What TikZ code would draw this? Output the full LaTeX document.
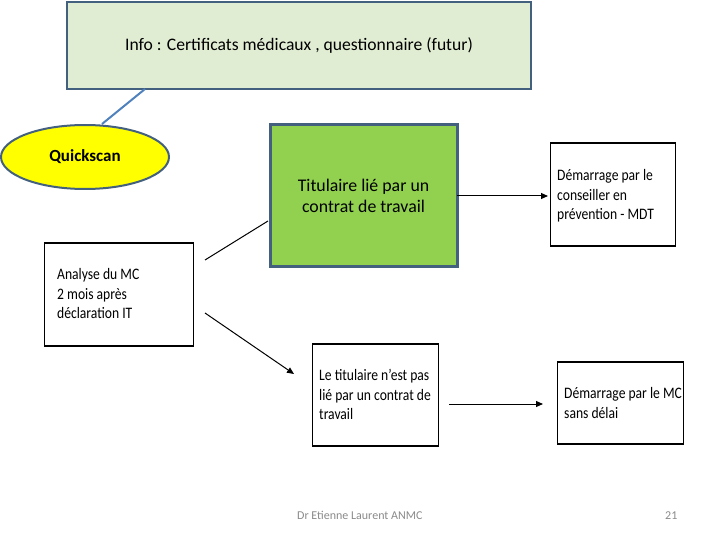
\documentclass[tikz,border=0pt]{standalone}
\usepackage{fontspec}
\setmainfont{Carlito}
\newfontfamily\narrowfont[FakeStretch=0.85]{Carlito}
\usetikzlibrary{arrows.meta,shapes.geometric}
\definecolor{infofill}{HTML}{E0EDD3}
\definecolor{boxedge}{HTML}{44607F}
\definecolor{linkblue}{HTML}{4F81BD}
\definecolor{titgreen}{HTML}{92D050}
\definecolor{qyellow}{HTML}{FFFF00}
\definecolor{footgray}{HTML}{8A8A8A}
\tikzset{
  whitebox/.style={draw=black, line width=1pt, fill=white, anchor=north west, inner sep=0pt},
  boxtext/.style={anchor=north west, align=left, font=\narrowfont\fontsize{16}{19.7}\selectfont, inner sep=0pt},
  arr/.style={draw=black, line width=1pt, -{Triangle[length=7pt,width=6pt]}},
  plain/.style={draw=black, line width=1pt},
  foottext/.style={font=\fontsize{12}{14}\selectfont, text=footgray, anchor=base west, inner sep=0pt},
}
\begin{document}
\begin{tikzpicture}[x=1pt,y=-1pt]
\useasboundingbox (0,0) rectangle (720,540);
% info box
\node[draw=boxedge, line width=2pt, fill=infofill, minimum width=464pt, minimum height=87pt, anchor=north west,
      font=\fontsize{17.6}{20}\selectfont] (info) at (66,1) {Info : Certificats médicaux , questionnaire (futur)};
% quickscan ellipse
\coordinate (infob) at (145,89);
\coordinate (qstop) at (102,124);
\draw[linkblue, line width=2pt] (infob) -- (qstop);
\node[draw=boxedge, line width=2pt, fill=qyellow, ellipse, minimum width=168pt, minimum height=64pt,
      font=\bfseries\fontsize{17}{19}\selectfont, inner sep=0pt] (qs) at (85,157) {Quickscan};
% titulaire
\node[draw=boxedge, line width=3pt, fill=titgreen, minimum width=187pt, minimum height=141pt, anchor=north west,
      align=center, font=\fontsize{17.8}{21}\selectfont] (tit) at (268.5,123.5) {Titulaire lié par un\\contrat de travail};
% MDT box
\node[whitebox, minimum width=125pt, minimum height=102pt] (mdt) at (550,143) {};
\draw[line width=1.8pt] (mdt.north west) -- (mdt.north east) (mdt.south west) -- (mdt.south east);
\node[boxtext] (mdtt) at (557,169) {Démarrage par le\\conseiller en\\prévention - MDT};
% analyse box
\node[whitebox, minimum width=149pt, minimum height=102pt] (ana) at (44,243) {};
\draw[line width=1.8pt] (ana.north west) -- (ana.north east) (ana.south west) -- (ana.south east);
\node[boxtext] (anat) at (57,268) {Analyse du MC\\2 mois après\\déclaration IT};
% non titulaire box
\node[whitebox, minimum width=126pt, minimum height=101pt] (non) at (312,344) {};
\draw[line width=1.8pt] (non.north west) -- (non.north east) (non.south west) -- (non.south east);
\node[boxtext] (nont) at (319,369) {Le titulaire n’est pas\\lié par un contrat de\\travail};
% MC box
\node[whitebox, minimum width=126pt, minimum height=81pt] (mc) at (557,362) {};
\draw[line width=1.8pt] (mc.north west) -- (mc.north east) (mc.south west) -- (mc.south east);
\node[boxtext] (mct) at (564,387) {Démarrage par le MC\\sans délai};
% connectors
\coordinate (a1) at (205,260);
\coordinate (t1) at (268,221);
\draw[plain] (a1) -- (t1);
\coordinate (a2) at (205,313);
\coordinate (n1) at (294,374);
\draw[arr] (a2) -- (n1);
\coordinate (t2) at (457,196);
\coordinate (m1) at (548,196);
\draw[arr] (t2) -- (m1);
\coordinate (n2) at (449,404);
\coordinate (m2) at (543,404);
\draw[arr] (n2) -- (m2);
% footer
\node[foottext] (foot) at (297,519) {Dr Etienne Laurent ANMC};
\node[foottext] (page) at (665,519) {21};
\end{tikzpicture}
\end{document}
